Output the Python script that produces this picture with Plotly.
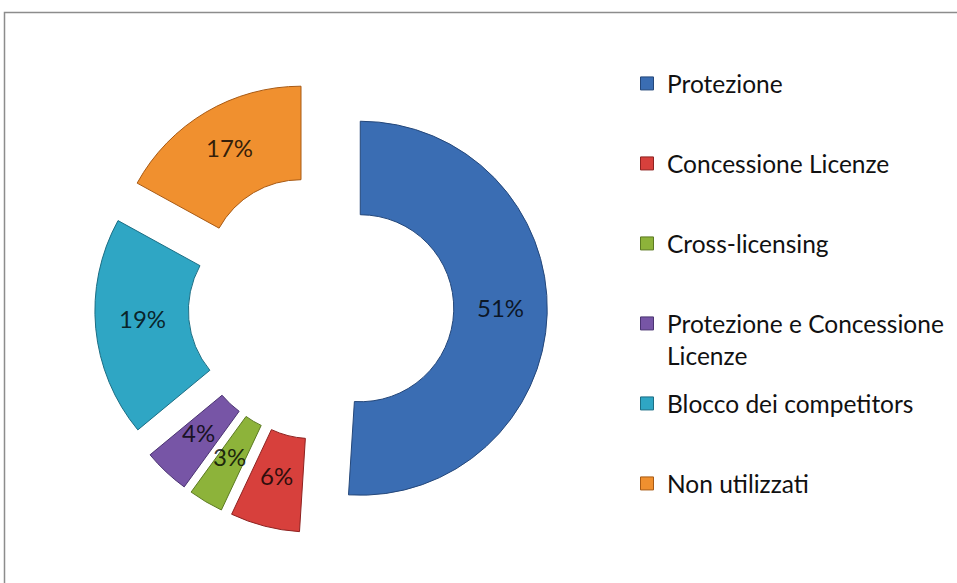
import math
import plotly.graph_objects as go

categories = ["Protezione", "Concessione Licenze", "Cross-licensing",
              "Protezione e Concessione Licenze", "Blocco dei competitors", "Non utilizzati"]
legend_labels = ["Protezione", "Concessione Licenze", "Cross-licensing",
                 "Protezione e Concessione<br>Licenze", "Blocco dei competitors", "Non utilizzati"]
values = [51, 6, 3, 4, 19, 17]

colors = ["#3A6DB3", "#D7403C", "#8DB33A", "#7755A6", "#2FA6C4", "#F0902F"]
edge_colors = ["#24477A", "#8E2220", "#5C7A22", "#4B3472", "#1C6E84", "#A85A14"]

W, H = 957, 583
FONT = "Lato, Calibri, Carlito, sans-serif"

fig = go.Figure()

# pie geometry (pixels) -> domain
cx, cy, R, pull, hole = 321, 307, 187, 0.21, 0.5
box = 2 * R * (1 + pull)
dx = box / 2 / W
dy = box / 2 / H
pcx = cx / W
pcy = 1 - cy / H

fig.add_trace(go.Pie(
    labels=categories,
    values=values,
    sort=False,
    direction="clockwise",
    rotation=0,
    hole=hole,
    pull=[pull] * len(values),
    marker=dict(colors=colors, line=dict(color=edge_colors, width=1)),
    textinfo="none",
    showlegend=False,
    hoverinfo="skip",
    domain=dict(x=[pcx - dx, pcx + dx], y=[pcy - dy, pcy + dy]),
))

# percentage labels, horizontal, at the middle of each (pulled) ring sector
total = sum(values)
annotations = []
cum = 0
rlab = R * (1 + hole) / 2 + pull * R
for v in values:
    ang = 2 * math.pi * (cum + v / 2) / total
    cum += v
    px = cx + rlab * math.sin(ang)
    py = cy - rlab * math.cos(ang)
    annotations.append(dict(
        x=px / W, y=1 - py / H, xref="paper", yref="paper",
        text=f"{round(100 * v / total)}%", showarrow=False,
        xanchor="center", yanchor="middle", yshift=5,
        font=dict(family=FONT, size=24, color="rgba(0,0,0,0.8)"),
    ))

# legend entries (one legend per entry to reproduce Excel's even slot spacing)
legend_tops = [61, 141, 221, 301, 381, 461]
legend_left = 627
for i, (lab, col, ecol) in enumerate(zip(legend_labels, colors, edge_colors)):
    name = "legend" if i == 0 else f"legend{i+1}"
    fig.add_trace(go.Scatter(
        x=[None], y=[None], mode="markers", name=lab,
        marker=dict(symbol="square", size=13, color=col, line=dict(color=ecol, width=1)),
        legend=name, showlegend=True, hoverinfo="skip",
    ))
    fig.update_layout(**{name: dict(
        x=legend_left / W, y=1 - legend_tops[i] / H, xanchor="left", yanchor="top",
        bgcolor="rgba(0,0,0,0)", borderwidth=0, valign="top",
        font=dict(family=FONT, size=24.5, color="#111111"),
    )})

fig.update_layout(
    width=W, height=H,
    margin=dict(l=0, r=0, t=0, b=0),
    paper_bgcolor="white", plot_bgcolor="white",
    xaxis=dict(visible=False), yaxis=dict(visible=False),
    annotations=annotations,
    shapes=[dict(type="rect", xref="paper", yref="paper",
                 x0=4.5 / W, x1=1.05, y0=-0.05, y1=1 - 12.5 / H,
                 line=dict(color="#8C8C8C", width=1.5), fillcolor="rgba(0,0,0,0)", layer="below")],
)

fig.write_html("out.html")
